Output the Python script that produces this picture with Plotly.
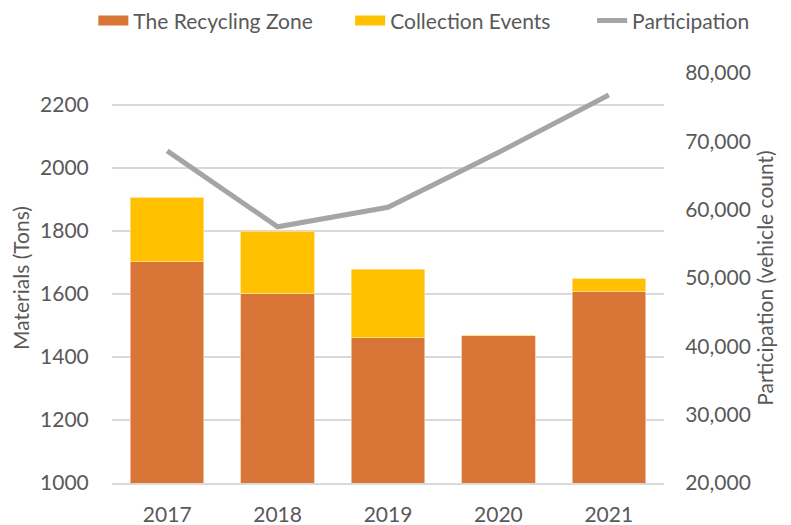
import plotly.graph_objects as go

years = ["2017", "2018", "2019", "2020", "2021"]
recycling_zone = [1702, 1602, 1461, 1467, 1608]
collection_events = [203, 197, 216, 0, 40]
participation = [68600, 57500, 60350, 68360, 76770]

TXT = "#595959"
FONT = "Lato"
C_RZ, C_CE, C_P = "#D87537", "#FFC000", "#A5A5A5"

fig = go.Figure()
fig.add_trace(go.Bar(x=years, y=recycling_zone, name="The Recycling Zone", showlegend=False,
                     marker=dict(color=C_RZ, line=dict(color="#F2C9A8", width=0.8))))
fig.add_trace(go.Bar(x=years, y=collection_events, name="Collection Events", showlegend=False,
                     marker=dict(color=C_CE, line=dict(color="#FFE08A", width=0.8))))
fig.add_trace(go.Scatter(x=years, y=participation, name="Participation", yaxis="y2",
                         mode="lines", line=dict(color=C_P, width=5), legend="legend3"))
# legend-only entries with wide swatches like the original
fig.add_trace(go.Scatter(x=[None], y=[None], name="The Recycling Zone", mode="lines",
                         line=dict(color=C_RZ, width=20), legend="legend"))
fig.add_trace(go.Scatter(x=[None], y=[None], name="Collection Events", mode="lines",
                         line=dict(color=C_CE, width=20), legend="legend2"))

leg = dict(orientation="h", xref="container", yref="container", xanchor="left",
           y=0.975, yanchor="middle", font=dict(size=21, color=TXT), itemwidth=30,
           bgcolor="rgba(0,0,0,0)")

# page body has an 8px margin, so the figure is sized to fit inside the window
fig.update_layout(
    width=783, height=517,
    barmode="stack", bargap=0.335,
    paper_bgcolor="white", plot_bgcolor="white",
    font=dict(family=FONT, size=21, color=TXT),
    margin=dict(l=104, r=127, t=65, b=42, autoexpand=False),
    showlegend=True,
    legend=dict(leg, x=0.109),
    legend2=dict(leg, x=0.437),
    legend3=dict(leg, x=0.746),
    xaxis=dict(showgrid=False, showline=True, linecolor="#D9D9D9", linewidth=1.5,
               ticks="outside", ticklen=12, tickcolor="rgba(0,0,0,0)",
               tickfont=dict(size=21, color=TXT)),
    yaxis=dict(range=[1000, 2300], tick0=1000, dtick=200, showgrid=True,
               gridcolor="#D9D9D9", gridwidth=1.5, zeroline=False, showline=False,
               ticks="outside", ticklen=18, tickcolor="rgba(0,0,0,0)",
               tickfont=dict(size=21, color=TXT),
               title=dict(text="Materials (Tons)", font=dict(size=21, color=TXT), standoff=10)),
    yaxis2=dict(range=[20000, 80000], dtick=10000, overlaying="y", side="right",
                showgrid=False, zeroline=False, showline=False, tickformat=",",
                ticks="outside", ticklen=16, tickcolor="rgba(0,0,0,0)",
                tickfont=dict(size=21, color=TXT),
                title=dict(text="Participation (vehicle count)", font=dict(size=21, color=TXT), standoff=8)),
)

fig.write_html("out.html")
